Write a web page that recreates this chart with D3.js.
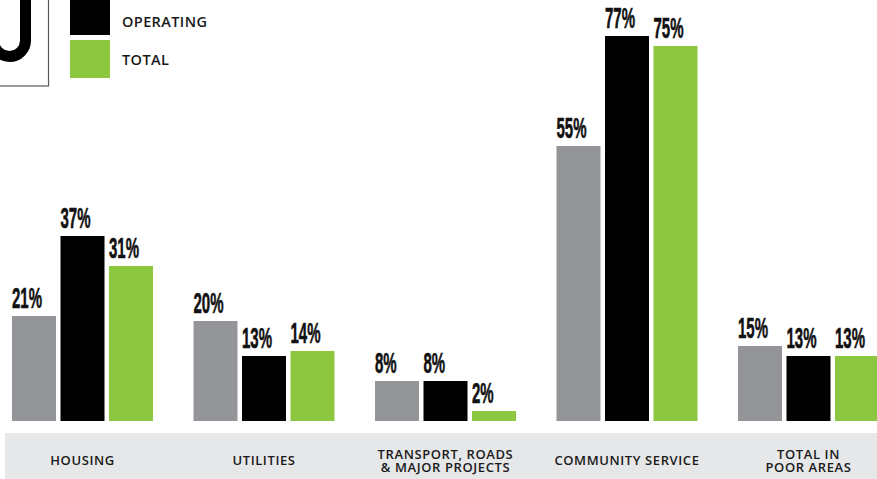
<!DOCTYPE html>
<html>
<head>
<meta charset="utf-8">
<script src="https://cdn.jsdelivr.net/npm/d3@7"></script>
<style>
  body { margin: 0; background: #fff; }
  #chartArea { width: 877px; height: 479px; overflow: hidden; }
</style>
</head>
<body>
<div id="chartArea"></div>
<script>
// chart values
var categories = ['HOUSING', 'UTILITIES', 'TRANSPORT, ROADS\n& MAJOR PROJECTS', 'COMMUNITY SERVICE', 'TOTAL IN\nPOOR AREAS'];
var seriesNames = ['CAPITAL', 'OPERATING', 'TOTAL'];
var capital   = [21, 20, 8, 55, 15];
var operating = [37, 13, 8, 77, 13];
var total     = [31, 14, 2, 75, 13];
var colors = ['#939598', '#000000', '#8dc63f'];

function chart() {
    var width = 877, height = 479;
    var baseline = 421;

    var svg = d3.select('#chartArea').append('svg')
        .attr('width', width)
        .attr('height', height);

    // grouped data
    var rows = categories.map(function(c, i) {
        return {cat: c, vals: [capital[i], operating[i], total[i]]};
    });

    var x0 = d3.scaleBand().domain(categories).range([12, 879])
        .paddingInner(40.5 / 181.5).paddingOuter(0).align(0);
    var x1 = d3.scaleBand().domain(seriesNames).range([0, x0.bandwidth()])
        .paddingInner(4.5 / 48.5).paddingOuter(0);
    var y = d3.scaleLinear().domain([0, 80]).range([baseline, 21]);

    // bottom category band
    svg.append('rect')
        .attr('x', 5).attr('y', 433)
        .attr('width', width).attr('height', 60)
        .attr('fill', '#e6e7e8');

    var groups = svg.append('g').selectAll('g').data(rows).enter().append('g')
        .attr('transform', function(d) { return 'translate(' + x0(d.cat) + ',0)'; });

    var cells = groups.selectAll('g').data(function(d) {
        return d.vals.map(function(v, j) { return {name: seriesNames[j], value: v, j: j}; });
    }).enter().append('g');

    cells.append('rect')
        .attr('x', function(d) { return x1(d.name); })
        .attr('y', function(d) { return y(d.value); })
        .attr('width', x1.bandwidth())
        .attr('height', function(d) { return baseline - y(d.value); })
        .attr('fill', function(d) { return colors[d.j]; });

    // condensed value labels (squeezed horizontally)
    cells.append('text')
        .attr('transform', function(d) {
            return 'translate(' + x1(d.name) + ',' + (y(d.value) - 8) + ') scale(0.5,1)';
        })
        .attr('font-family', 'Liberation Sans, Arial, sans-serif')
        .attr('font-weight', 'bold')
        .attr('font-size', 30)
        .attr('fill', '#111')
        .attr('stroke', '#111')
        .attr('stroke-width', 0.6)
        .text(function(d) { return d.value + '%'; });

    // category labels
    var catLabels = svg.append('g').selectAll('text').data(categories).enter().append('text')
        .attr('text-anchor', 'middle')
        .attr('font-family', 'Open Sans, sans-serif')
        .attr('font-weight', 600)
        .attr('font-size', 13)
        .attr('letter-spacing', 0.6)
        .attr('fill', '#1a1a1a');
    catLabels.each(function(c) {
        var lines = c.split('\n');
        var cx = x0(c) + x0.bandwidth() / 2;
        var first = lines.length > 1 ? 458.5 : 465;
        d3.select(this).selectAll('tspan').data(lines).enter().append('tspan')
            .attr('x', cx)
            .attr('y', function(l, k) { return first + k * 13; })
            .text(function(l) { return l; });
    });

    // top-left boxed logo corner
    svg.append('rect')
        .attr('x', -10).attr('y', -10)
        .attr('width', 58.5).attr('height', 96)
        .attr('fill', 'none')
        .attr('stroke', '#58595b')
        .attr('stroke-width', 1.2);
    svg.append('path')
        .attr('d', 'M25.5,-5 V40.5 A16,16 0 0 1 -6.5,40.5 V-5')
        .attr('fill', 'none')
        .attr('stroke', '#000')
        .attr('stroke-width', 11);

    // legend (first entry sits above the visible area)
    var legend = svg.append('g').selectAll('g').data(seriesNames).enter().append('g');
    legend.append('rect')
        .attr('x', 70)
        .attr('y', function(d, i) { return 40 - 43 * (2 - i); })
        .attr('width', 40).attr('height', 38)
        .attr('fill', function(d, i) { return colors[i]; });
    legend.filter(function(d, i) { return i > 0; }).append('text')
        .attr('x', 122)
        .attr('y', function(d) { return 64.5 - 38 * (2 - seriesNames.indexOf(d)); })
        .attr('font-family', 'Open Sans, sans-serif')
        .attr('font-weight', 600)
        .attr('font-size', 14.5)
        .attr('letter-spacing', 0.4)
        .attr('fill', '#1a1a1a')
        .text(function(d) { return d; });
}
chart();
</script>
</body>
</html>
